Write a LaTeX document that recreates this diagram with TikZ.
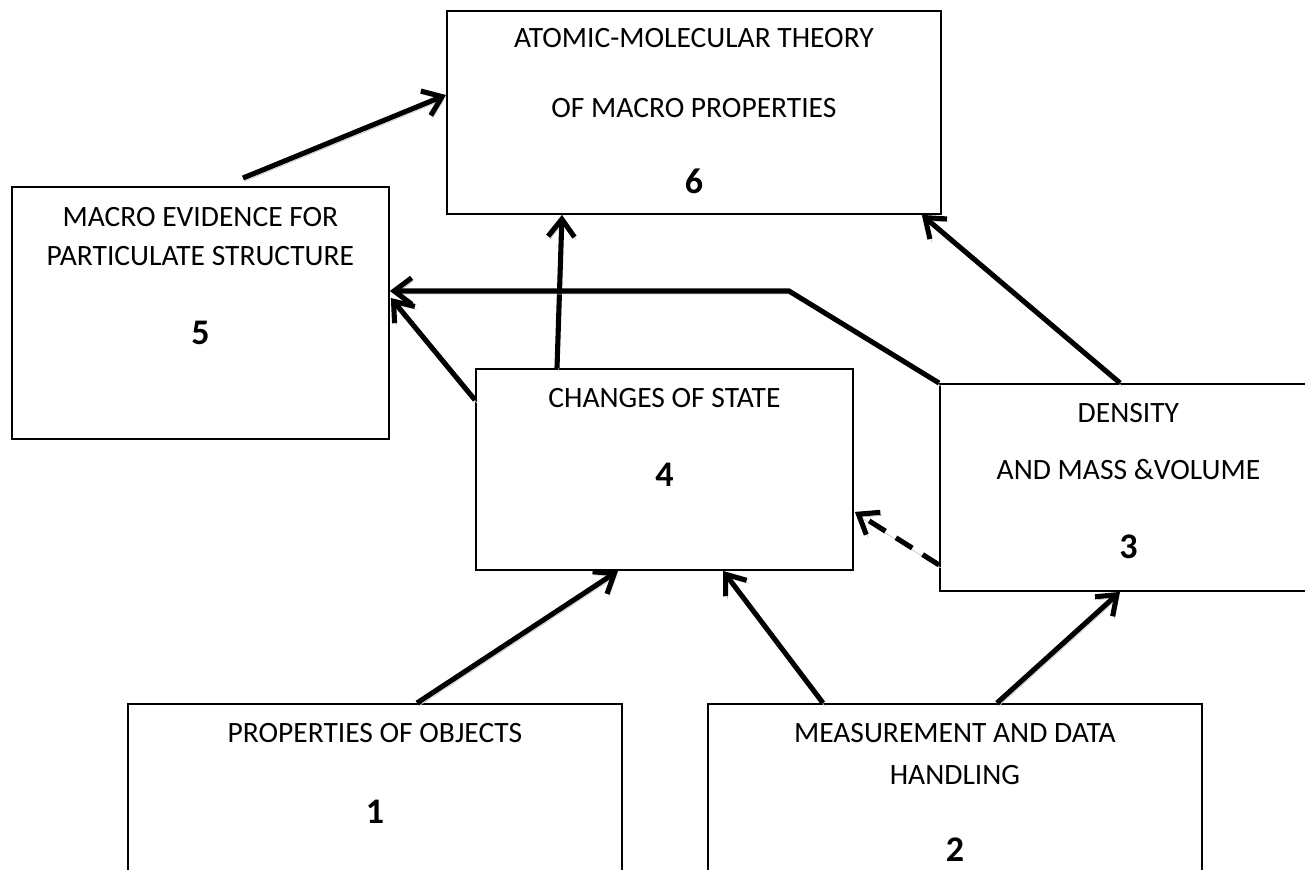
\documentclass[tikz,border=0pt]{standalone}
\usepackage{fontspec}
\setmainfont{Carlito}
\usetikzlibrary{positioning,calc,arrows.meta}

\begin{document}
\begin{tikzpicture}[x=0.02cm, y=-0.02cm,
    box/.style={draw, line width=1.1pt, anchor=north west, inner sep=0pt},
    wide/.style={box, minimum width=9.88cm},
    narrow/.style={box, minimum width=7.54cm},
    txt/.style={anchor=base, inner sep=0pt, font=\fontsize{16.8}{20}\selectfont},
    num/.style={anchor=base, inner sep=0pt, font=\fontsize{20.5}{24}\selectfont\bfseries},
    link/.style={line width=2.9pt, -{Straight Barb[length=10pt,width=15pt]},
        preaction={draw=gray!45, transform canvas={xshift=1pt,yshift=-1.7pt}}}]
    \useasboundingbox (0,0) rectangle (1305,869);
    \clip (0,0) rectangle (1305,869);

    % Boxes
    \node[wide, minimum height=4.06cm] (theory) at (446,10) {};
    \node[narrow, minimum height=5.04cm] (evidence) at (11,186) {};
    \node[narrow, minimum height=4.02cm] (changes) at (475,368) {};
    \node[narrow, minimum height=4.14cm] (density) at (939,383) {};
    \node[wide, minimum height=4.4cm] (objects) at (127,703) {};
    \node[wide, minimum height=4.4cm] (measure) at (707,703) {};

    % Box texts
    \node[txt] (theory-a) at ([shift={(0,37)}]theory.north) {ATOMIC-MOLECULAR THEORY};
    \node[txt] (theory-b) at ([shift={(0,107)}]theory.north) {OF MACRO PROPERTIES};
    \node[num] (theory-n) at ([shift={(0,183)}]theory.north) {6};

    \node[txt] (evidence-a) at ([shift={(0,40)}]evidence.north) {MACRO EVIDENCE FOR};
    \node[txt] (evidence-b) at ([shift={(0,79)}]evidence.north) {PARTICULATE STRUCTURE};
    \node[num] (evidence-n) at ([shift={(0,158)}]evidence.north) {5};

    \node[txt] (changes-a) at ([shift={(0,39)}]changes.north) {CHANGES OF STATE};
    \node[num] (changes-n) at ([shift={(0,118)}]changes.north) {4};

    \node[txt] (density-a) at ([shift={(0,39)}]density.north) {DENSITY};
    \node[txt] (density-b) at ([shift={(0,96)}]density.north) {AND MASS \&VOLUME};
    \node[num] (density-n) at ([shift={(0,175)}]density.north) {3};

    \node[txt] (objects-a) at ([shift={(0,39)}]objects.north) {PROPERTIES OF OBJECTS};
    \node[num] (objects-n) at ([shift={(0,120)}]objects.north) {1};

    \node[txt] (measure-a) at ([shift={(0,39)}]measure.north) {MEASUREMENT AND DATA};
    \node[txt] (measure-b) at ([shift={(0,81)}]measure.north) {HANDLING};
    \node[num] (measure-n) at ([shift={(0,158)}]measure.north) {2};

    % Arrows into 6
    \draw[link] ([shift={(232,-8)}]evidence.north west) -- ([shift={(0,85)}]theory.north west);
    \draw[link] ([shift={(82,0)}]changes.north west) -- ([shift={(116,0)}]theory.south west);
    \draw[link] ([shift={(181,0)}]density.north west) -- ([shift={(-20,0)}]theory.south east);

    % Arrows into 5
    \draw[link] (density.north west) -- ++(-150,-92) -- ([shift={(0,105)}]evidence.north east);
    \draw[link] ([shift={(0,32)}]changes.north west) -- ([shift={(1,112)}]evidence.north east);

    % Arrows into 4 and 3
    \draw[link, dash pattern=on 11pt off 7pt] ([shift={(0,-27)}]density.south west) -- ([shift={(1,-59)}]changes.south east);
    \draw[link] ([shift={(290,0)}]objects.north west) -- ([shift={(143,0)}]changes.south west);
    \draw[link] ([shift={(116,0)}]measure.north west) -- ([shift={(248,0)}]changes.south west);
    \draw[link] ([shift={(290,0)}]measure.north west) -- ([shift={(181,0)}]density.south west);
\end{tikzpicture}
\end{document}
